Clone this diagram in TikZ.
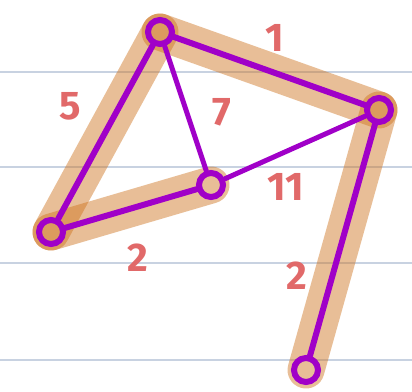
\documentclass[tikz,border=0pt]{standalone}
\usepackage{fontspec}
\setmainfont{Fira Sans}
\definecolor{grid}{RGB}{200,210,225}
\definecolor{hl}{RGB}{206,113,26}
\definecolor{edge}{RGB}{160,0,200}
\definecolor{lab}{RGB}{225,105,105}
\tikzset{
  vtx/.style={circle,draw=edge,line width=6pt,minimum size=24pt,inner sep=0pt},
  hilite/.style={draw=hl,opacity=0.45,line width=37pt,line cap=round},
  edg/.style={draw=edge,line width=6pt,line cap=round},
  edgthin/.style={draw=edge,line width=5pt,line cap=round},
  wt/.style={text=lab,font=\fontsize{40}{40}\selectfont\bfseries}
}
\begin{document}
\begin{tikzpicture}[x=1pt,y=-1pt]
\useasboundingbox (0,0) rectangle (412,391);
\fill[white] (0,0) rectangle (412,391);
\foreach \yy in {72,167,263,360}
  \draw[grid,line width=2pt] (0,\yy) -- (412,\yy);
\coordinate (pA) at (160,32);
\coordinate (pB) at (379,110);
\coordinate (pC) at (211,185);
\coordinate (pD) at (51,232);
\coordinate (pE) at (306,370);
\draw[hilite] (pA) -- (pB);
\draw[hilite] (pA) -- (pD);
\draw[hilite] (pD) -- (pC);
\draw[hilite] (pB) -- (pE);
\node[vtx] (A) at (pA) {};
\node[vtx] (B) at (pB) {};
\node[vtx] (C) at (pC) {};
\node[vtx] (D) at (pD) {};
\node[vtx] (E) at (pE) {};
\draw[edg] (A) -- (B);
\draw[edg] (A) -- (D);
\draw[edgthin] (A) -- (C);
\draw[edg] (D) -- (C);
\draw[edgthin] (C) -- (B);
\draw[edg] (B) -- (E);
\node[wt] (w1) at (275,38) {1};
\node[wt] (w5) at (70,106) {5};
\node[wt] (w7) at (222,112) {7};
\node[wt] (w2a) at (138,258) {2};
\node[wt] (w11) at (286,187) {11};
\node[wt] (w2b) at (297,276) {2};
\end{tikzpicture}
\end{document}
